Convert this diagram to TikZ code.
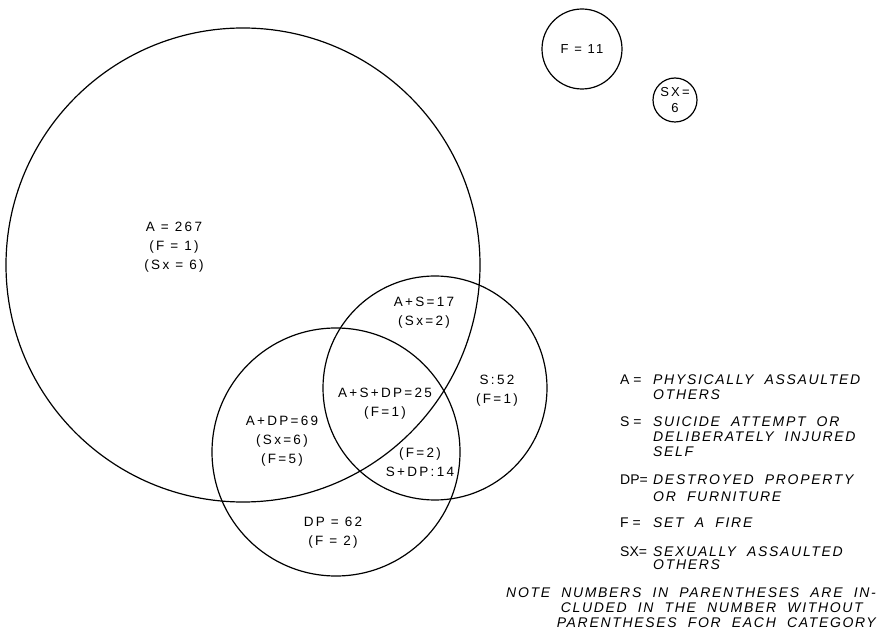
\documentclass[tikz,border=0pt]{standalone}
\usepackage{fontspec}
\setmainfont{Liberation Sans}
\newfontfamily\vennfont[LetterSpace=17]{Liberation Sans}
\newfontfamily\legendfont[LetterSpace=12, WordSpace=2]{Liberation Sans}

\begin{document}
\begin{tikzpicture}[x=1pt, y=-1pt]

    % radii of the three big circles
    \def\rA{237pt}
    \def\rS{112pt}
    \def\rDP{124pt}

    % styles
    \tikzset{
        ring/.style={draw=black, line width=1.2pt},
        tag/.style={font=\vennfont\fontsize{13.5}{19}\selectfont, align=center, inner sep=0pt},
        keytxt/.style={font=\fontsize{14}{16}\selectfont, anchor=west, inner sep=0pt},
        desc/.style={font=\legendfont\itshape\fontsize{14}{16}\selectfont, anchor=west, inner sep=0pt}
    }

    \useasboundingbox (0,0) rectangle (879,644);

    % --- circles ---
    \draw[ring] (243,265) circle (\rA);
    \draw[ring] (435,388) circle (\rS);
    \draw[ring] (336,452) circle (\rDP);

    % lone circles
    \node[ring, circle, minimum size=80pt, inner sep=0pt, font=\vennfont\fontsize{13}{17}\selectfont] (fire) at (582,49) {F = 11};
    \node[ring, circle, minimum size=44pt, inner sep=0pt, align=center, font=\vennfont\fontsize{13}{16}\selectfont] (sexual) at (675,100) {SX=\\6};

    % --- region counts ---
    \node[tag] (a)    at (174,247) {A = 267\\(F = 1)\\(Sx = 6)};
    \node[tag] (as)   at (424,313) {A+S=17\\(Sx=2)};
    \node[tag] (s)    at (497,391) {S:52\\(F=1)};
    \node[tag] (asdp) at (385,404) {A+S+DP=25\\(F=1)};
    \node[tag] (adp)  at (282,441) {A+DP=69\\(Sx=6)\\(F=5)};
    \node[tag] (sdp)  at (420,462) {(F=2)\\S+DP:14};
    \node[tag] (dp)   at (333,533) {DP = 62\\(F = 2)};

    % --- legend ---
    \foreach \y/\k in {380/A =, 422/S =, 480/DP=, 523/F =, 552/SX=} {
        \node[keytxt] (key\y) at (620,\y) {\k};
    }
    \foreach \y/\t in {380/PHYSICALLY ASSAULTED, 395/OTHERS,
                       422/SUICIDE ATTEMPT OR, 437/DELIBERATELY INJURED, 452/SELF,
                       480/DESTROYED PROPERTY, 497/OR FURNITURE,
                       523/SET A FIRE,
                       552/SEXUALLY ASSAULTED, 565/OTHERS} {
        \node[desc] (desc\y) at (653,\y) {\t};
    }

    % note
    \node[desc, anchor=east] (note1) at (876,593) {NOTE NUMBERS IN PARENTHESES ARE IN-};
    \node[desc, anchor=east] (note2) at (863,608) {CLUDED IN THE NUMBER WITHOUT};
    \node[desc, anchor=east] (note3) at (876,623) {PARENTHESES FOR EACH CATEGORY};

\end{tikzpicture}
\end{document}
